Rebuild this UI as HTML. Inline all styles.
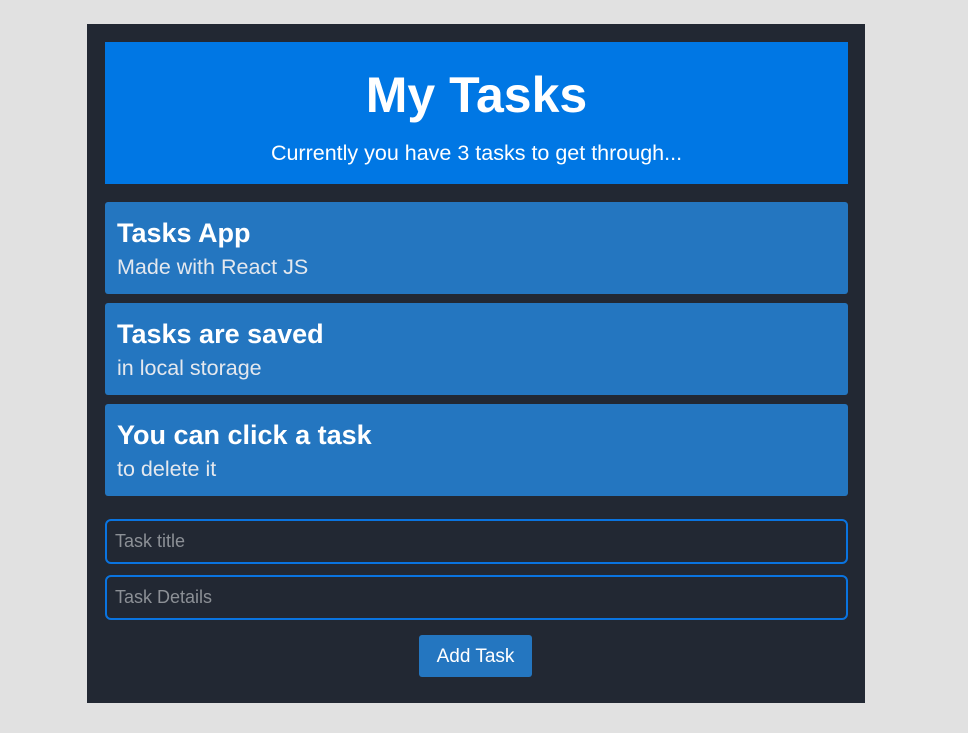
<!DOCTYPE html>
<html><head><style>
body{margin:0;width:968px;height:733px;background:#e1e1e1;font-family:"Liberation Sans",sans-serif;position:relative;overflow:hidden}
.panel{position:absolute;left:87px;top:24px;width:778px;height:679px;background:#222833}
.hdr{position:absolute;left:105px;top:42px;width:743px;height:142px;background:#0077e4;color:#fff;text-align:center}
.hdr h1{margin:0;position:absolute;top:28px;width:100%;font-size:50px;font-weight:bold;line-height:50px}
.hdr p{margin:0;position:absolute;top:98px;width:100%;font-size:21.5px;line-height:26px}
.card{position:absolute;left:105px;width:743px;height:92px;background:#2476c0;border-radius:3px;color:#fff}
.card b{position:absolute;left:12px;top:16px;font-size:27px;line-height:31px}
.card span{position:absolute;left:12px;top:52px;font-size:21.5px;line-height:26px;color:#e4e8ee}
.inp{position:absolute;left:105px;height:41px;border:2px solid #0a74e0;border-radius:6px;color:#8c9096;font-size:18px;line-height:41px;padding-left:8px;width:731px}
.btn{position:absolute;left:419px;top:635px;width:113px;height:42px;background:#2476c0;border-radius:3px;color:#fff;font-size:19px;text-align:center;line-height:43px}
</style></head><body>
<div class="panel"></div>
<div class="hdr"><h1>My Tasks</h1><p>Currently you have 3 tasks to get through...</p></div>
<div class="card" style="top:202px"><b>Tasks App</b><span>Made with React JS</span></div>
<div class="card" style="top:303px"><b>Tasks are saved</b><span>in local storage</span></div>
<div class="card" style="top:404px"><b>You can click a task</b><span>to delete it</span></div>
<div class="inp" style="top:519px">Task title</div>
<div class="inp" style="top:575px">Task Details</div>
<div class="btn">Add Task</div>
</body></html>
